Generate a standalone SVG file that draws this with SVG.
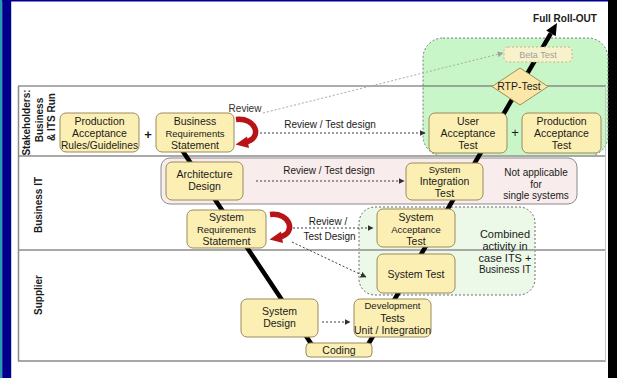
<svg xmlns="http://www.w3.org/2000/svg" width="617" height="378" viewBox="0 0 617 378">
<defs>
<style>
.nd{fill:#fcefb4;stroke:#9b8a5a;stroke-width:1}
.t{font-family:"Liberation Sans",Arial,sans-serif;font-size:10.5px;fill:#1a1a1a;text-anchor:middle}
.ts{font-size:9.5px}
.lb{font-family:"Liberation Sans",Arial,sans-serif;font-size:10px;font-weight:bold;fill:#1a1a1a;text-anchor:middle}
.dl{fill:none;stroke:#404040;stroke-width:1;stroke-dasharray:2 2}
.dg{fill:none;stroke:#a8a8a8;stroke-width:1;stroke-dasharray:2 2}
.lane{stroke:#a8a8a8;stroke-width:2;fill:none}
</style>
<marker id="ah" viewBox="0 0 10 10" refX="9" refY="5" markerWidth="6" markerHeight="6" orient="auto" markerUnits="userSpaceOnUse">
<path d="M0,0 L10,5 L0,10 z" fill="#303030"/>
</marker>
<marker id="ahg" viewBox="0 0 10 10" refX="9" refY="5" markerWidth="6" markerHeight="6" orient="auto" markerUnits="userSpaceOnUse">
<path d="M0,0 L10,5 L0,10 z" fill="#a0a0a0"/>
</marker>
<g id="redarrow">
<path d="M236,119.5 C256,117 263,138 246,142" fill="none" stroke="#b81418" stroke-width="5.5" stroke-linecap="butt"/>
<path d="M247,136.5 L235.5,144.5 L249,148 z" fill="#b81418"/>
</g>
</defs>

<!-- background frame -->
<rect x="0" y="0" width="617" height="378" fill="#ffffff"/>
<rect x="0" y="0" width="608" height="1.5" fill="#00008c"/>
<rect x="0" y="0" width="2.2" height="378" fill="#2a9cb0"/>
<rect x="2.2" y="0" width="9" height="378" fill="#00008c"/>
<rect x="608" y="0" width="9" height="378" fill="#000000"/>

<!-- regions -->
<g id="regions">
<rect x="423" y="38" width="185" height="118" rx="20" fill="#c9f6c9" stroke="#7a7a7a" stroke-width="1" stroke-dasharray="2 2"/>
<rect x="161" y="158" width="416" height="46" rx="9" fill="#f9ecec" stroke="#8a8a8a" stroke-width="1"/>
<rect x="359" y="207" width="176" height="88" rx="16" fill="#ecf9e8" stroke="#6a6a6a" stroke-width="1" stroke-dasharray="2 2"/>
</g>

<!-- lanes -->
<g id="lanes">
<line x1="18" y1="86" x2="606" y2="86" stroke="#5a5a5a" stroke-width="1"/>
<line x1="18" y1="156" x2="606" y2="156" class="lane"/>
<line x1="18" y1="250" x2="606" y2="250" class="lane"/>
<line x1="18" y1="361" x2="606" y2="361" stroke="#8a8a8a" stroke-width="1.5"/>
<line x1="18.5" y1="86" x2="18.5" y2="361" stroke="#8a8a8a" stroke-width="1.5"/>
<line x1="605.5" y1="86" x2="605.5" y2="361" stroke="#c8c8c8" stroke-width="1"/>
<text class="lb" transform="translate(30,122.5) rotate(-90)">Stakeholders:</text>
<text class="lb" transform="translate(42.5,120) rotate(-90)">Business</text>
<text class="lb" transform="translate(55,117) rotate(-90)">&amp; ITS Run</text>
<text class="lb" transform="translate(42,205) rotate(-90)">Business IT</text>
<text class="lb" transform="translate(42,295) rotate(-90)">Supplier</text>
</g>

<!-- connectors -->
<g id="connectors">
<polyline points="182,150 314,348 366,348 550.9,33.4" fill="none" stroke="#000" stroke-width="4.5" stroke-linejoin="round"/>
<polygon points="557,23 555.7,36.2 546.2,30.6" fill="#000"/>
<line x1="263" y1="113" x2="503" y2="53" class="dg" marker-end="url(#ahg)"/>
<line x1="260" y1="133" x2="425" y2="133" class="dl" marker-end="url(#ah)"/>
<line x1="256" y1="181" x2="404" y2="181" class="dl" marker-end="url(#ah)"/>
<line x1="293" y1="228" x2="373" y2="228" class="dl" marker-end="url(#ah)"/>
<line x1="292" y1="242" x2="366" y2="277" class="dl" marker-end="url(#ah)"/>
<line x1="322" y1="322" x2="350" y2="322" class="dl" marker-end="url(#ah)"/>
<use href="#redarrow"/>
<use href="#redarrow" transform="translate(34,95)"/>
<text class="t" x="245" y="112" style="font-size:10px;fill:#303030">Review</text>
<text class="t" x="330" y="128" style="font-size:10px">Review / Test design</text>
<text class="t" x="329" y="174" style="font-size:10px">Review / Test design</text>
<text class="t" x="328" y="225" style="font-size:10px">Review /</text>
<text class="t" x="329.5" y="240" style="font-size:10px">Test Design</text>
</g>

<!-- nodes -->
<g id="prod-acc-rules">
<rect class="nd" x="60" y="113" width="79" height="39" rx="6"/>
<text class="t" x="99.5" y="124.5">Production</text>
<text class="t" x="99.5" y="136.5">Acceptance</text>
<text class="t" x="99.5" y="148.5" style="font-size:10.2px">Rules/Guidelines</text>
</g>
<text class="t" x="148" y="139" style="font-size:13px;font-weight:bold">+</text>
<g id="bus-req">
<rect class="nd" x="156" y="113" width="78" height="39" rx="6"/>
<text class="t" x="195" y="124.5">Business</text>
<text class="t ts" x="195" y="136.5">Requirements</text>
<text class="t" x="195" y="148.5">Statement</text>
</g>
<g id="beta-test">
<rect x="504" y="47" width="68" height="15" rx="4" fill="#f8f2cc" stroke="#c8b878" stroke-width="1" stroke-dasharray="2 2"/>
<text class="t" x="538" y="58" style="font-size:9px;fill:#a0a0a0">Beta Test</text>
</g>
<g id="rtp-test">
<polygon points="520,68 548,86.5 520,105 492,86.5" fill="#fbe8a8" stroke="#a09050" stroke-width="1"/>
<text class="t" x="519" y="90">RTP-Test</text>
</g>
<g id="uat">
<rect class="nd" x="429" y="113" width="78" height="40" rx="6"/>
<text class="t" x="468" y="124.5">User</text>
<text class="t" x="468" y="136.5">Acceptance</text>
<text class="t" x="468" y="149">Test</text>
</g>
<text class="t" x="515" y="137" style="font-size:13px">+</text>
<g id="prod-acc-test">
<rect class="nd" x="522" y="113" width="79" height="40" rx="6"/>
<text class="t" x="561.5" y="124.5">Production</text>
<text class="t" x="561.5" y="136.5">Acceptance</text>
<text class="t" x="561.5" y="149">Test</text>
</g>
<text class="t" x="565" y="22" style="font-size:10px;font-weight:bold">Full Roll-OUT</text>
<g id="arch-design">
<rect class="nd" x="166" y="162" width="77" height="38" rx="6"/>
<text class="t" x="204.5" y="178">Architecture</text>
<text class="t" x="204.5" y="190">Design</text>
</g>
<g id="sys-int-test">
<rect class="nd" x="406" y="163" width="77" height="37" rx="6"/>
<text class="t ts" x="444.5" y="172.5">System</text>
<text class="t" x="444.5" y="184.5">Integration</text>
<text class="t" x="444.5" y="197">Test</text>
</g>
<text class="t" x="536" y="176" style="font-size:10px">Not applicable</text>
<text class="t" x="536" y="187.5" style="font-size:10px">for</text>
<text class="t" x="536" y="198.5" style="font-size:10px">single systems</text>
<g id="sys-req">
<rect class="nd" x="187" y="210" width="79" height="38" rx="6"/>
<text class="t" x="226.5" y="221">System</text>
<text class="t ts" x="226.5" y="233">Requirements</text>
<text class="t" x="226.5" y="244.5">Statement</text>
</g>
<g id="sys-acc-test">
<rect class="nd" x="377" y="209" width="78" height="38" rx="6"/>
<text class="t" x="416" y="221">System</text>
<text class="t ts" x="416" y="233">Acceptance</text>
<text class="t" x="416" y="244.5">Test</text>
</g>
<text class="t" x="505" y="237.5" style="font-size:11px">Combined</text>
<text class="t" x="505" y="249.5" style="font-size:11px">activity in</text>
<text class="t" x="505" y="261.5" style="font-size:11px">case ITS +</text>
<text class="t" x="505" y="273" style="font-size:10px">Business IT</text>
<g id="sys-test">
<rect class="nd" x="377" y="254" width="78" height="39" rx="6"/>
<text class="t" x="416" y="277.5">System Test</text>
</g>
<g id="sys-design">
<rect class="nd" x="241" y="299" width="77" height="38" rx="6"/>
<text class="t" x="279.5" y="315">System</text>
<text class="t" x="279.5" y="327">Design</text>
</g>
<g id="dev-tests">
<rect class="nd" x="354" y="299" width="77" height="38" rx="6"/>
<text class="t ts" x="392.5" y="309">Development</text>
<text class="t" x="392.5" y="322">Tests</text>
<text class="t" x="392.5" y="334">Unit / Integration</text>
</g>
<g id="coding">
<rect class="nd" x="306" y="343" width="66" height="14" rx="4"/>
<text class="t" x="339" y="354">Coding</text>
</g>
</svg>
